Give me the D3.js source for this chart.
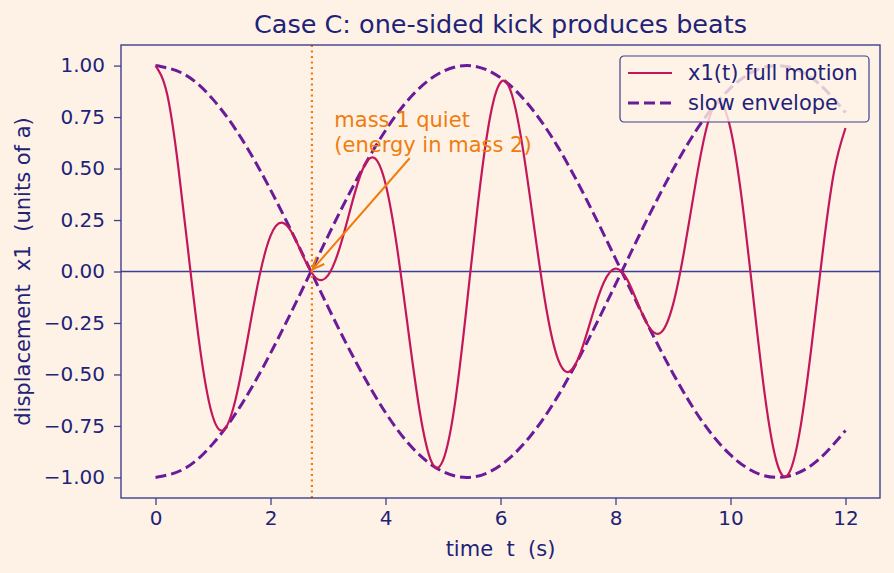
<!DOCTYPE html>
<html>
<head>
<meta charset="utf-8">
<script src="https://cdn.jsdelivr.net/npm/d3@7"></script>
<style>
  body { margin: 0; background: #fef2e6; }
  svg { display: block; font-family: "DejaVu Sans", sans-serif; }
</style>
</head>
<body>
<div class="chart"></div>
<script>
// values
var motionT = [0, 0.2, 0.4, 0.6, 0.8, 1.0, 1.2, 1.4, 1.6, 1.8, 2.0, 2.2, 2.4, 2.6, 2.8, 3.0,
  3.2, 3.4, 3.6, 3.8, 4.0, 4.2, 4.4, 4.6, 4.8, 5.0, 5.2, 5.4, 5.6, 5.8, 6.0, 6.2,
  6.4, 6.6, 6.8, 7.0, 7.2, 7.4, 7.6, 7.8, 8.0, 8.2, 8.4, 8.6, 8.8, 9.0, 9.2, 9.4, 9.6,
  9.8, 10.0, 10.2, 10.4, 10.6, 10.8, 11.0, 11.2, 11.4, 11.6, 11.8, 12.0]
var motionX = [1.000, 0.864, 0.499, 0.021, -0.424, -0.708, -0.766, -0.612, -0.329, -0.033, 0.173, 0.237, 0.175, 0.054, -0.034, -0.019,
  0.112, 0.314, 0.494, 0.552, 0.426, 0.118, -0.295, -0.687, -0.924, -0.917, -0.656, -0.198, 0.310, 0.721, 0.918, 0.857,
  0.577, 0.185, -0.186, -0.426, -0.486, -0.388, -0.210, -0.051, 0.014, -0.037, -0.163, -0.276, -0.294, -0.161, 0.109, 0.440, 0.715,
  0.821, 0.693, 0.344, -0.136, -0.606, -0.922, -0.987, -0.784, -0.384, 0.086, 0.483, 0.697]

var envT = [0, 0.5, 1, 1.5, 2, 2.5, 3, 3.5, 4, 4.5, 5, 5.5, 6, 6.5, 7, 7.5, 8, 8.5, 9, 9.5, 10, 10.5, 11, 11.5, 12]
var envUpper = [1.000, 0.958, 0.836, 0.644, 0.397, 0.118, -0.172, -0.447, -0.685, -0.866, -0.972, -0.999, -0.941,
  -0.806, -0.604, -0.347, -0.063, 0.225, 0.495, 0.725, 0.891, 0.984, 0.994, 0.921, 0.772]
var envLower = [-1.000, -0.958, -0.836, -0.644, -0.397, -0.118, 0.172, 0.447, 0.685, 0.866, 0.972, 0.999, 0.941,
  0.806, 0.604, 0.347, 0.063, -0.225, -0.495, -0.725, -0.891, -0.984, -0.994, -0.921, -0.772]

var xTicks = [0, 2, 4, 6, 8, 10, 12]
var yTicks = [-1, -0.75, -0.5, -0.25, 0, 0.25, 0.5, 0.75, 1]
var quietT = 2.72
var noteLines = ["mass 1 quiet", "(energy in mass 2)"]
var noteText = [3.11, 0.70]
var noteTail = [4.42, 0.55]
var noteHead = [2.73, 0.01]
var legendLabels = ["x1(t) full motion", "slow envelope"]

var width = 894, height = 573
var ink = "#1f2378", spine = "#3d3f8e", bg = "#fef2e6"
var red = "#c2185b", purple = "#6a1b9a", orange = "#f07c0e"

var svg = d3.select(".chart").append("svg")
  .attr("width", width)
  .attr("height", height)

svg.append("rect").attr("width", width).attr("height", height).attr("fill", bg)

var margin = {left: 121, right: 14, top: 45, bottom: 75}
var x = d3.scaleLinear().domain([-0.6, 12.6]).range([margin.left, width - margin.right])
var y = d3.scaleLinear().domain([-1.1, 1.1]).range([height - margin.bottom, margin.top])

var defs = svg.append("defs")
defs.append("clipPath").attr("id", "plot")
  .append("rect")
  .attr("x", x.range()[0]).attr("y", y.range()[1])
  .attr("width", x.range()[1] - x.range()[0])
  .attr("height", y.range()[0] - y.range()[1])

var plot = svg.append("g").attr("clip-path", "url(#plot)")

// zero line
plot.append("line")
  .attr("x1", x.range()[0]).attr("x2", x.range()[1])
  .attr("y1", y(0)).attr("y2", y(0))
  .attr("stroke", "#3b3f96").attr("stroke-width", 1.3)

var envLine = d3.line()
  .x((d, i) => x(envT[i]))
  .y(d => y(d))
  .curve(d3.curveNatural)

plot.append("path").datum(envUpper)
  .attr("d", envLine)
  .attr("fill", "none").attr("stroke", purple)
  .attr("stroke-width", 3).attr("stroke-dasharray", "11,5")

plot.append("path").datum(envLower)
  .attr("d", envLine)
  .attr("fill", "none").attr("stroke", purple)
  .attr("stroke-width", 3).attr("stroke-dasharray", "11,5")

var motionLine = d3.line()
  .x((d, i) => x(motionT[i]))
  .y(d => y(d))
  .curve(d3.curveNatural)

plot.append("path").datum(motionX)
  .attr("d", motionLine)
  .attr("fill", "none").attr("stroke", red)
  .attr("stroke-width", 2.2)

// quiet time marker
plot.append("line")
  .attr("x1", x(quietT)).attr("x2", x(quietT))
  .attr("y1", y.range()[0]).attr("y2", y.range()[1])
  .attr("stroke", orange).attr("stroke-width", 2.2)
  .attr("stroke-dasharray", "2,3.5")

// annotation arrow, head drawn as an open V
var ax0 = x(noteTail[0]), ay0 = y(noteTail[1]), ax1 = x(noteHead[0]), ay1 = y(noteHead[1])
var ang = Math.atan2(ay1 - ay0, ax1 - ax0), hl = 13, spread = 0.42
svg.append("line")
  .attr("x1", ax0).attr("y1", ay0).attr("x2", ax1).attr("y2", ay1)
  .attr("stroke", orange).attr("stroke-width", 2)
svg.append("path")
  .attr("d", d3.line()([
    [ax1 - hl * Math.cos(ang - spread), ay1 - hl * Math.sin(ang - spread)],
    [ax1, ay1],
    [ax1 - hl * Math.cos(ang + spread), ay1 - hl * Math.sin(ang + spread)]
  ]))
  .attr("fill", "none").attr("stroke", orange).attr("stroke-width", 2)

svg.append("text")
  .attr("x", x(noteText[0])).attr("y", y(noteText[1]))
  .attr("fill", orange).attr("font-size", 21)
  .selectAll("tspan").data(noteLines).enter().append("tspan")
  .attr("x", x(noteText[0]))
  .attr("dy", (d, i) => i ? 24.5 : 0)
  .text(d => d)

// axes
var xAxis = svg.append("g")
  .attr("transform", `translate(0,${y.range()[0]})`)
  .call(d3.axisBottom(x).tickValues(xTicks).tickFormat(d3.format("d")).tickSize(7).tickPadding(6))
var yAxis = svg.append("g")
  .attr("transform", `translate(${x.range()[0]},0)`)
  .call(d3.axisLeft(y).tickValues(yTicks).tickFormat(d3.format(".2f")).tickSize(7).tickPadding(9))

;[xAxis, yAxis].forEach(a => {
  a.select(".domain").remove()
  a.selectAll(".tick line").attr("stroke", spine).attr("stroke-width", 1.3)
  a.selectAll(".tick text").attr("fill", ink).attr("font-size", 20)
    .attr("font-family", "DejaVu Sans")
})

svg.append("rect")
  .attr("x", x.range()[0]).attr("y", y.range()[1])
  .attr("width", x.range()[1] - x.range()[0])
  .attr("height", y.range()[0] - y.range()[1])
  .attr("fill", "none").attr("stroke", spine).attr("stroke-width", 1.4)

// labels
svg.append("text")
  .attr("x", (x.range()[0] + x.range()[1]) / 2).attr("y", 33)
  .attr("text-anchor", "middle").attr("fill", ink).attr("font-size", 25.5)
  .text("Case C: one-sided kick produces beats")

svg.append("text")
  .attr("x", (x.range()[0] + x.range()[1]) / 2).attr("y", 556)
  .attr("text-anchor", "middle").attr("fill", ink).attr("font-size", 21)
  .style("white-space", "pre")
  .text("time  t  (s)")

svg.append("text")
  .attr("transform", `translate(30,${y(0)}) rotate(-90)`)
  .attr("text-anchor", "middle").attr("fill", ink).attr("font-size", 21)
  .style("white-space", "pre")
  .text("displacement  x1  (units of a)")

// legend
var legend = svg.append("g").attr("transform", "translate(620,56)")
legend.append("rect")
  .attr("width", 249).attr("height", 66).attr("rx", 4)
  .attr("fill", bg).attr("fill-opacity", 0.8)
  .attr("stroke", spine).attr("stroke-width", 1.2)

var rows = legend.selectAll(".row").data(legendLabels).enter().append("g")
  .attr("transform", (d, i) => `translate(0,${17 + i * 30})`)
rows.append("line")
  .attr("x1", 8).attr("x2", 52)
  .attr("stroke", (d, i) => i ? purple : red)
  .attr("stroke-width", (d, i) => i ? 3 : 2.2)
  .attr("stroke-dasharray", (d, i) => i ? "11,5" : null)
rows.append("text")
  .attr("x", 68).attr("dy", "0.35em")
  .attr("fill", ink).attr("font-size", 21)
  .text(d => d)
</script>
</body>
</html>
